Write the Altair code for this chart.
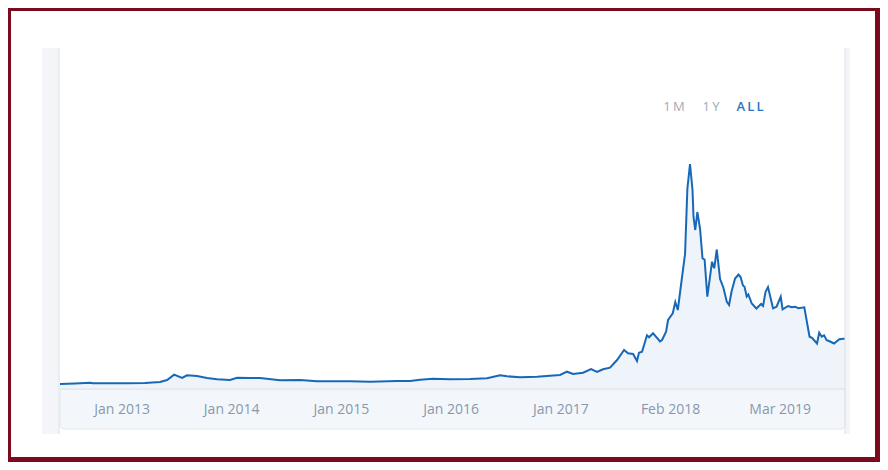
import altair as alt
import pandas as pd

# Time in decimal years, value in chart units (0 at the axis)
years = [
    2012.439, 2012.576, 2012.713, 2012.740, 2012.895, 2013.050, 2013.214, 2013.351,
    2013.415, 2013.479, 2013.552, 2013.597, 2013.688, 2013.779, 2013.871, 2013.989,
    2014.053, 2014.171, 2014.263, 2014.445, 2014.627, 2014.782, 2014.901, 2015.083,
    2015.265, 2015.511, 2015.630, 2015.721, 2015.840, 2015.995, 2016.177, 2016.332,
    2016.450, 2016.514, 2016.633, 2016.788, 2016.906, 2016.997, 2017.061, 2017.116,
    2017.207, 2017.280, 2017.335, 2017.389, 2017.453, 2017.517, 2017.581, 2017.617,
    2017.663, 2017.699, 2017.717, 2017.745, 2017.790, 2017.809, 2017.845, 2017.909,
    2017.927, 2017.964, 2017.982, 2018.025, 2018.048, 2018.071, 2018.100, 2018.137,
    2018.158, 2018.182, 2018.205, 2018.214, 2018.230, 2018.249, 2018.274, 2018.296,
    2018.315, 2018.340, 2018.383, 2018.403, 2018.426, 2018.456, 2018.486, 2018.517,
    2018.538, 2018.562, 2018.593, 2018.624, 2018.643, 2018.665, 2018.679, 2018.699,
    2018.714, 2018.745, 2018.787, 2018.830, 2018.848, 2018.871, 2018.893, 2018.939,
    2018.971, 2019.009, 2019.026, 2019.076, 2019.109, 2019.140, 2019.170, 2019.224,
    2019.272, 2019.294, 2019.340, 2019.360, 2019.383, 2019.404, 2019.428, 2019.459,
    2019.495, 2019.543, 2019.580, 2019.595,
]
values = [
    5.0, 5.5, 6.3, 5.7, 5.7, 5.7, 6.0, 7.0,
    9.0, 14.3, 11.0, 13.7, 13.0, 11.0, 9.7, 9.0,
    11.3, 11.0, 11.0, 8.7, 9.0, 7.7, 7.7, 7.7,
    7.3, 8.0, 8.0, 9.3, 10.3, 9.7, 10.0, 10.7,
    13.7, 12.7, 11.7, 12.3, 13.3, 14.0, 17.3, 15.0,
    16.3, 20.0, 17.0, 19.7, 21.3, 29.0, 39.0, 35.7,
    35.0, 28.0, 36.3, 37.3, 53.7, 51.7, 55.7, 47.5,
    49.0, 57.3, 69.0, 75.7, 87.0, 79.0, 104.0, 135.0,
    200.0, 225.0, 199.0, 172.0, 159.0, 177.0, 160.0, 130.7,
    129.5, 92.3, 127.3, 120.7, 139.5, 110.0, 101.5, 87.3,
    84.0, 98.0, 110.5, 114.5, 112.0, 103.5, 102.3, 92.5,
    94.5, 85.5, 80.5, 85.0, 83.0, 97.3, 102.0, 80.7,
    82.3, 92.3, 79.7, 83.0, 81.7, 82.3, 80.8, 81.7,
    52.3, 51.2, 45.5, 56.3, 52.3, 53.7, 48.7, 47.5,
    45.5, 49.7, 50.2, 50.2,
]

tick_years = [2013, 2014, 2015, 2016, 2017, 2018, 2019]
tick_labels = ["Jan 2013", "Jan 2014", "Jan 2015", "Jan 2016", "Jan 2017", "Feb 2018", "Mar 2019"]
buttons = ["1\u2009M", "1\u2009Y", "A\u2009L\u2009L"]

df = pd.DataFrame({"t": years, "v": values})
one = pd.DataFrame({"k": [0]})

label_expr = "[" + ",".join("'%s'" % s for s in tick_labels) + "][round(datum.value) - %d]" % tick_years[0]

W, H = 785, 341

x_enc = alt.X("t:Q", scale=alt.Scale(domain=[2012.439, 2019.595], nice=False, zero=False),
              axis=alt.Axis(values=tick_years, labelExpr=label_expr, title=None, domain=False,
                            ticks=False, grid=False, labelFont="Open Sans", labelFontSize=14,
                            labelColor="#8797ad", labelPadding=20, labelBaseline="middle",
                            labelFlush=False, labelOverlap=False, zindex=2))
y_enc = alt.Y("v:Q", scale=alt.Scale(domain=[0, H], nice=False), axis=None)

def box(x1, x2, y1, y2, **kw):
    return alt.Chart(one).mark_rect(**kw).encode(
        x=alt.value(x1), x2=alt.value(x2), y=alt.value(y1), y2=alt.value(y2))

left_strip = box(-18, -1, 0, 386, color="#f3f5f8")
left_line = box(-1.5, -0.5, 0, 386, color="#dde2e8")
right_strip = box(W, W + 5, 0, 386, color="#f3f5f8")
right_line = box(W - 0.5, W + 0.5, 0, 386, color="#dde2e8")
band = box(0, W, H, H + 40, color="#f3f7fb", stroke="#e0e5eb", strokeWidth=1,
           cornerRadiusBottomLeft=4, cornerRadiusBottomRight=4)
band_top = box(0, W, H - 0.5, H + 0.5, color="#dde3ea")

area = alt.Chart(df).mark_area(
    color="#eef4fa", opacity=1,
    line={"color": "#1868b8", "strokeWidth": 2},
).encode(x=x_enc, y=y_enc)

btn_x = [614, 651, 690]
btns = []
for i, b in enumerate(buttons):
    btns.append(alt.Chart(one).mark_text(
        text=b, font="Open Sans", fontSize=13, align="center", baseline="middle",
        color="#2a75bd" if i == 2 else "#a1aab6", fontWeight=600 if i == 2 else 400,
    ).encode(x=alt.value(btn_x[i]), y=alt.value(59)))

red = "#7b0a1f"
border = [
    box(-52, -49, -40, 414, color=red),
    box(-52, 820, -40, -37, color=red),
    box(815, 820, -40, 414, color=red),
    box(-52, 820, 409, 414, color=red),
]

chart = alt.layer(
    left_strip, left_line, right_strip, band, area, band_top, right_line, *btns, *border
).properties(
    width=W, height=H,
    padding={"left": 52, "top": 40, "right": 35, "bottom": 73},
    autosize=alt.AutoSizeParams(type="none"),
    background="white",
).configure_view(strokeWidth=0)

chart.save("out.html", embed_options={"renderer": "svg", "actions": False})
